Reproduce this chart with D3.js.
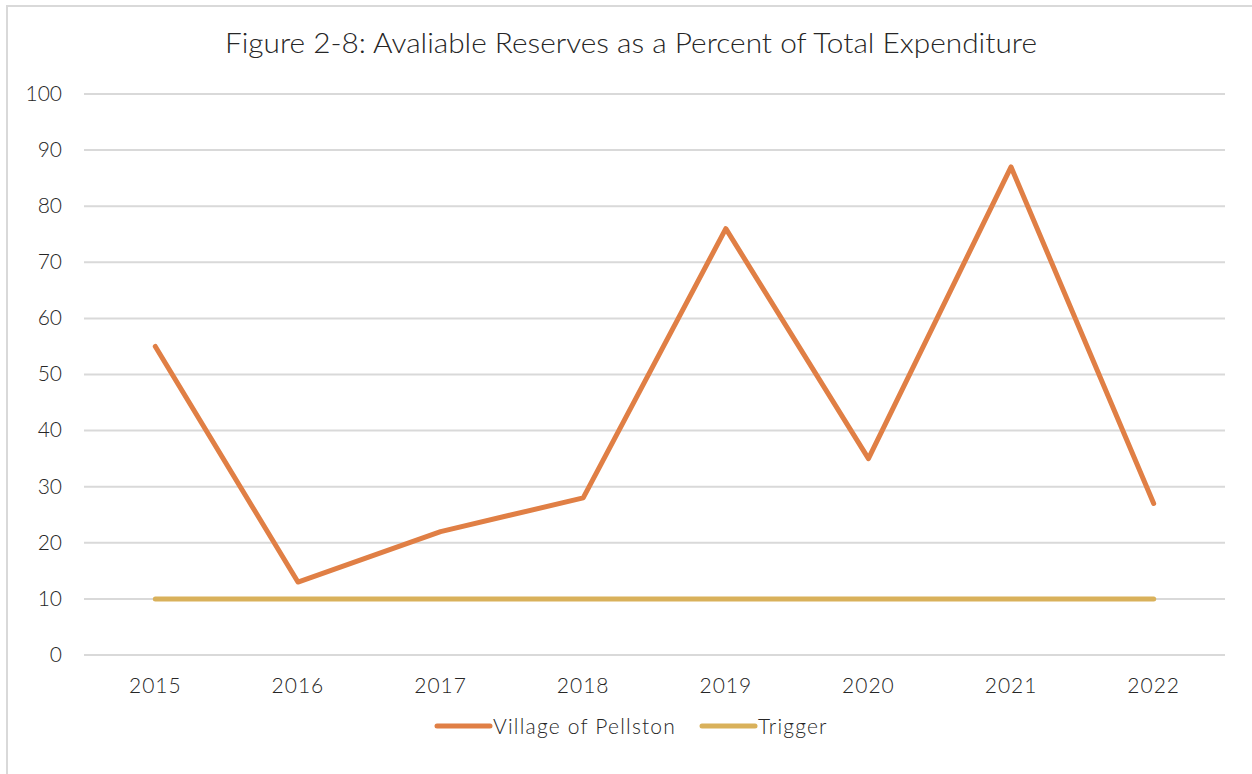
<!DOCTYPE html>
<html>
<head>
<meta charset="utf-8"/>
<title>Figure 2-8</title>
<script src="https://d3js.org/d3.v7.min.js"></script>
<style>
  body { margin: 0; background: #fff; }
  text { font-family: "Lato", "Open Sans", sans-serif; fill: #262626; }
</style>
</head>
<body>
<svg width="1252" height="774"></svg>
<script>
  var years = ["2015", "2016", "2017", "2018", "2019", "2020", "2021", "2022"];
  var pellston = [55, 13, 22, 28, 76, 35, 87, 27];
  var trigger = [10, 10, 10, 10, 10, 10, 10, 10];
  var yTicks = [0, 10, 20, 30, 40, 50, 60, 70, 80, 90, 100];
  var seriesNames = ["Village of Pellston", "Trigger"];
  var colors = ["#e07f45", "#d9b15b"];

  var margin = {top: 94, right: 27, bottom: 119, left: 84},
      width = 1252 - margin.left - margin.right,
      height = 774 - margin.top - margin.bottom;

  var svg = d3.select("svg");

  // chart frame (runs off the right and bottom like the source)
  svg.append("path")
    .attr("d", "M7,780 L7,6 L1260,6")
    .attr("fill", "none")
    .attr("stroke", "#d9d9d9")
    .attr("stroke-width", 2);

  svg.append("text")
    .attr("x", 631)
    .attr("y", 53)
    .attr("text-anchor", "middle")
    .attr("textLength", 812)
    .attr("lengthAdjust", "spacingAndGlyphs")
    .style("font-size", "27px")
    .style("font-weight", 300)
    .text("Figure 2-8: Avaliable Reserves as a Percent of Total Expenditure");

  var g = svg.append("g")
    .attr("transform", "translate(" + margin.left + "," + margin.top + ")");

  var x = d3.scaleBand().domain(years).range([0, width]).padding(0);
  var y = d3.scaleLinear().domain([0, 100]).range([height, 0]);

  // gridlines
  g.selectAll(".grid")
    .data(yTicks)
    .enter().append("line")
    .attr("class", "grid")
    .attr("x1", 0).attr("x2", width)
    .attr("y1", function(d) { return y(d); })
    .attr("y2", function(d) { return y(d); })
    .attr("stroke", "#d9d9d9")
    .attr("stroke-width", 2);

  var yAxis = g.append("g")
    .call(d3.axisLeft(y).tickValues(yTicks).tickSize(0).tickPadding(22));
  yAxis.select(".domain").remove();
  yAxis.selectAll("text").style("font-size", "21px").style("font-weight", 300).attr("dy", "0.3em");

  var xAxis = g.append("g")
    .attr("transform", "translate(0," + height + ")")
    .call(d3.axisBottom(x).tickSize(0).tickPadding(23));
  xAxis.select(".domain").remove();
  xAxis.selectAll("text").style("font-size", "21px").style("font-weight", 300)
    .style("letter-spacing", "1px");

  var line = d3.line()
    .x(function(d, i) { return x(years[i]) + x.bandwidth() / 2; })
    .y(function(d) { return y(d); });

  [trigger, pellston].forEach(function(s, k) {
    g.append("path")
      .datum(s)
      .attr("fill", "none")
      .attr("stroke", colors[1 - k])
      .attr("stroke-width", 5)
      .attr("stroke-linecap", "round")
      .attr("stroke-linejoin", "round")
      .attr("d", line);
  });

  // legend
  var legend = svg.append("g").attr("transform", "translate(0,726)");
  var legX = [437, 702];
  seriesNames.forEach(function(name, i) {
    legend.append("line")
      .attr("x1", legX[i]).attr("x2", legX[i] + 53)
      .attr("y1", 0).attr("y2", 0)
      .attr("stroke", colors[i])
      .attr("stroke-width", 5)
      .attr("stroke-linecap", "round");
    legend.append("text")
      .attr("x", legX[i] + 56)
      .attr("y", 8)
      .style("font-size", "21px")
      .style("font-weight", 300)
      .style("letter-spacing", "1.2px")
      .text(name);
  });
</script>
</body>
</html>
